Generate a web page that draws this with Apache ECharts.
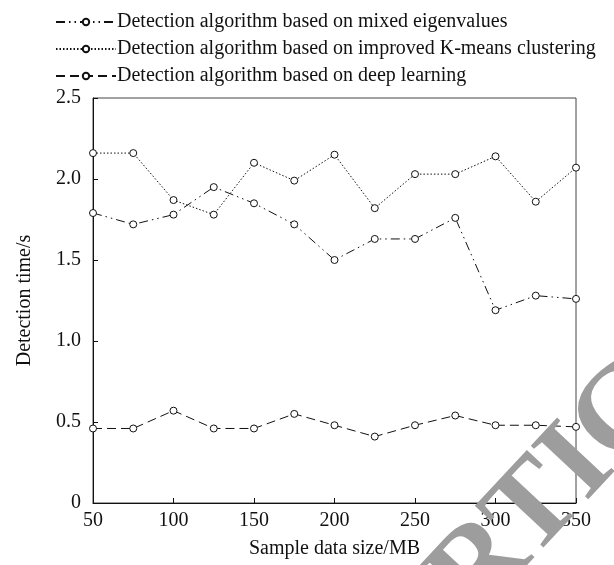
<!DOCTYPE html>
<html>
<head>
<meta charset="utf-8">
<script src="https://cdn.jsdelivr.net/npm/echarts@6/dist/echarts.min.js"></script>
<style>
  html, body { margin: 0; padding: 0; background: #fff; }
  #chart { width: 614px; height: 565px; }
</style>
</head>
<body>
<div id="chart"></div>
<script>
// sample data size (MB)
var sizes = [50, 75, 100, 125, 150, 175, 200, 225, 250, 275, 300, 325, 350];
var seriesNames = [
  "Detection algorithm based on mixed eigenvalues",
  "Detection algorithm based on improved K-means clustering",
  "Detection algorithm based on deep learning"
];
// detection time (s)
var mixedEigen = [1.79, 1.72, 1.78, 1.95, 1.85, 1.72, 1.50, 1.63, 1.63, 1.76, 1.19, 1.28, 1.26];
var kmeans = [2.16, 2.16, 1.87, 1.78, 2.10, 1.99, 2.15, 1.82, 2.03, 2.03, 2.14, 1.86, 2.07];
var deepLearning = [0.46, 0.46, 0.57, 0.46, 0.46, 0.55, 0.48, 0.41, 0.48, 0.54, 0.48, 0.48, 0.47];

var font = "Liberation Serif";

function pairs(ys) {
  return sizes.map(function (x, i) { return [x, ys[i]]; });
}

function makeSeries(name, ys, dash) {
  return {
    name: name,
    type: "line",
    data: pairs(ys),
    symbol: "circle",
    symbolSize: 7,
    showSymbol: true,
    itemStyle: { color: "#fff", borderColor: "#111", borderWidth: 1 },
    lineStyle: { color: "#111", width: 1, type: dash },
    emphasis: { disabled: true },
    animation: false
  };
}

// watermark text, rotated across the lower right corner
function watermark(text, align) {
  return {
    type: "text",
    x: 452,
    y: 600,
    rotation: 47 * Math.PI / 180,
    z: 100,
    silent: true,
    style: {
      text: text,
      fill: "#9d9d9d",
      font: "bold 120px Liberation Serif",
      textAlign: align,
      textVerticalAlign: "middle"
    }
  };
}

var chart = echarts.init(document.getElementById("chart"));
var option = {
  backgroundColor: "#fff",
  animation: false,
  textStyle: { fontFamily: font },
  legend: {
    orient: "vertical",
    left: 50,
    top: 7,
    itemWidth: 60,
    itemHeight: 8,
    itemGap: 7,
    textStyle: { fontFamily: font, fontSize: 20, color: "#111", padding: [0, 0, 0, -4] },
    data: seriesNames
  },
  grid: {
    left: 93,
    right: 38,
    top: 98,
    bottom: 62,
    show: true,
    borderColor: "#444",
    borderWidth: 1
  },
  xAxis: {
    type: "value",
    min: 50,
    max: 350,
    interval: 50,
    name: "Sample data size/MB",
    nameLocation: "middle",
    nameGap: 36,
    nameTextStyle: { fontFamily: font, fontSize: 20, color: "#111" },
    axisLine: { lineStyle: { color: "#111", width: 1 } },
    axisTick: { inside: true, length: 5, lineStyle: { color: "#111" } },
    axisLabel: { fontFamily: font, fontSize: 20, color: "#111", margin: 8 },
    splitLine: { show: false }
  },
  yAxis: {
    type: "value",
    min: 0,
    max: 2.5,
    interval: 0.5,
    name: "Detection time/s",
    nameLocation: "middle",
    nameGap: 58,
    nameTextStyle: { fontFamily: font, fontSize: 20, color: "#111" },
    axisLine: { show: true, lineStyle: { color: "#111", width: 1 } },
    axisTick: { show: true, inside: true, length: 5, lineStyle: { color: "#111" } },
    axisLabel: {
      fontFamily: font, fontSize: 20, color: "#111", margin: 12,
      formatter: function (v) { return v === 0 ? "0" : v.toFixed(1); }
    },
    splitLine: { show: false }
  },
  series: [
    makeSeries(seriesNames[0], mixedEigen, [9, 4, 1.5, 4, 1.5, 4]),
    makeSeries(seriesNames[1], kmeans, [1.5, 2]),
    makeSeries(seriesNames[2], deepLearning, [9, 5])
  ],
  graphic: [
    watermark("RTICLE", "left"),
    watermark("RETRACTED A", "right")
  ]
};
chart.setOption(option);
</script>
</body>
</html>
